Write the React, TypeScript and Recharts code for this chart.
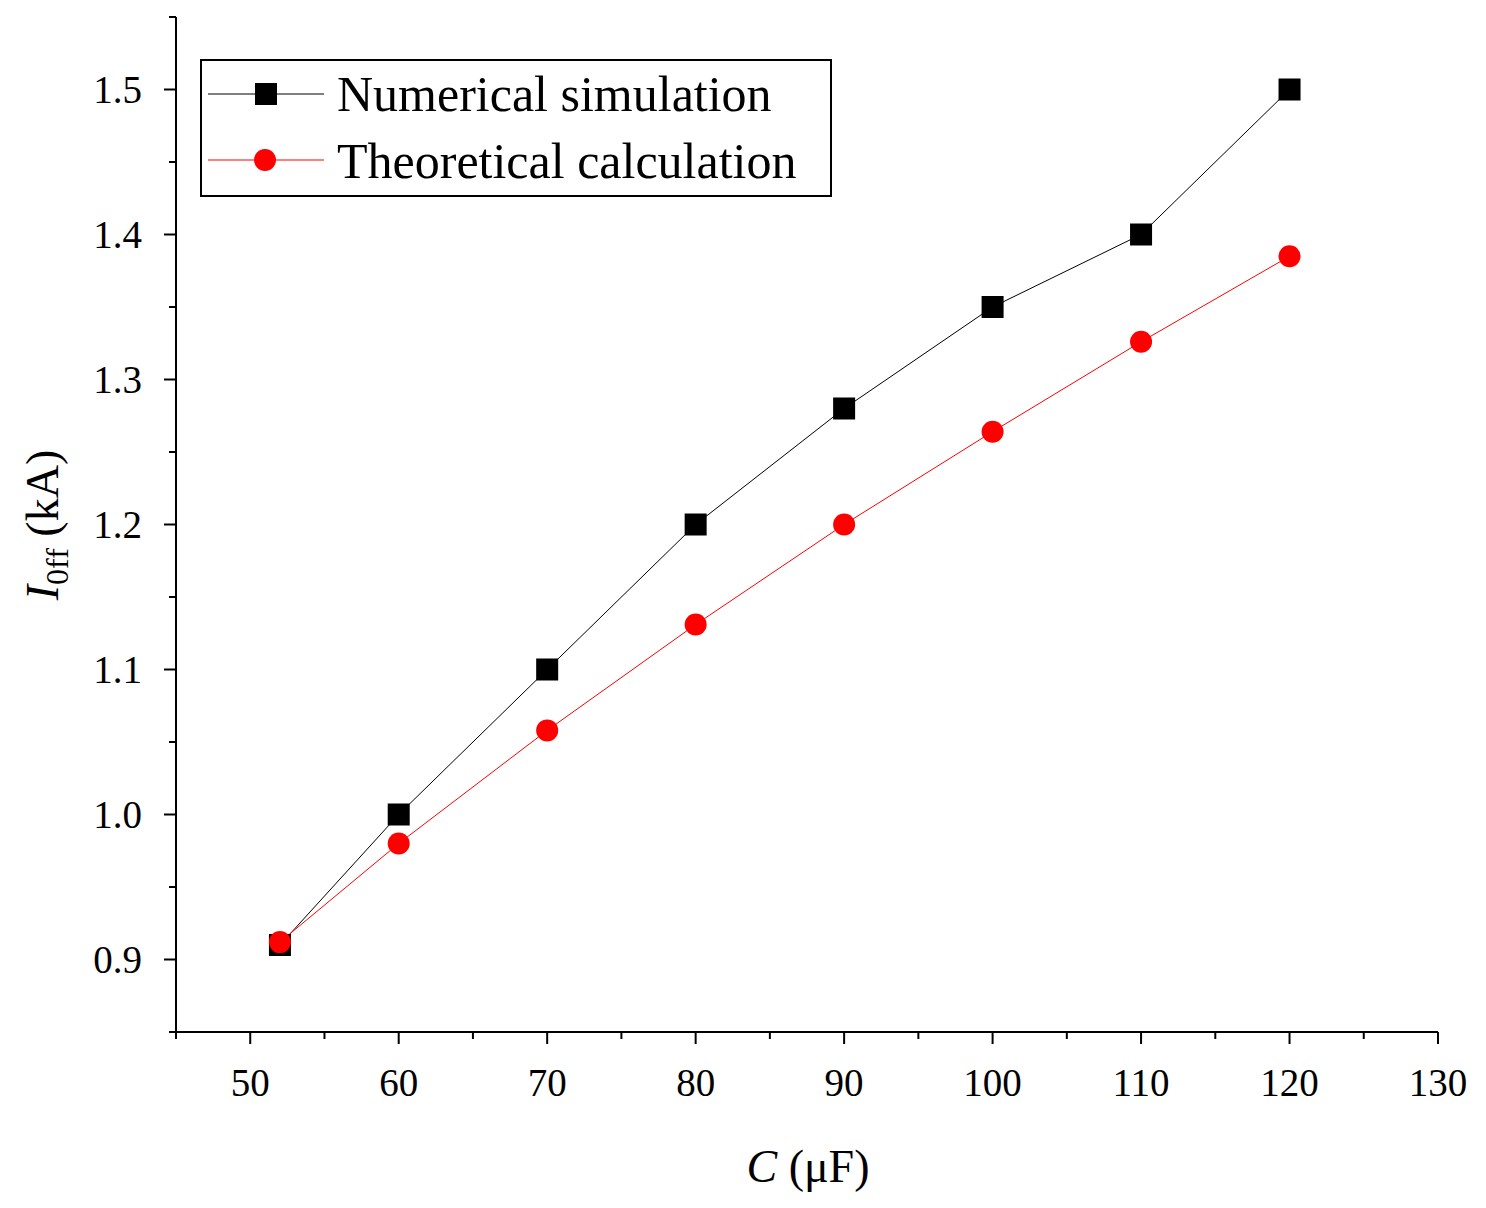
import React from 'react';
import { LineChart, Line, XAxis, YAxis } from 'recharts';

const capacitance = [52, 60, 70, 80, 90, 100, 110, 120];
const numerical = [0.91, 1.0, 1.1, 1.2, 1.28, 1.35, 1.4, 1.5];
const theoretical = [0.912, 0.98, 1.058, 1.131, 1.2, 1.264, 1.326, 1.385];
const xTicks = [45, 50, 55, 60, 65, 70, 75, 80, 85, 90, 95, 100, 105, 110, 115, 120, 125, 130];
const yTicks = [0.85, 0.9, 0.95, 1.0, 1.05, 1.1, 1.15, 1.2, 1.25, 1.3, 1.35, 1.4, 1.45, 1.5, 1.55];

const data = capacitance.map((c, i) => ({ c, num: numerical[i], theo: theoretical[i] }));

const FONT = '"Liberation Serif", "Times New Roman", serif';

const XTick = (props: any) => {
  const { x, y, payload } = props;
  const v = payload.value;
  const major = v % 10 === 0;
  return (
    <g>
      <line x1={x} x2={x} y1={y} y2={y + (major ? 12 : 7)} stroke="#000" strokeWidth={2} />
      {major && (
        <text x={x} y={y + 64} textAnchor="middle" fontFamily={FONT} fontSize={39} fill="#000">{v}</text>
      )}
    </g>
  );
};

const YTick = (props: any) => {
  const { x, y, payload } = props;
  const v = payload.value;
  const major = Math.round(v * 100) % 10 === 0;
  return (
    <g>
      <line x1={x} x2={x - (major ? 12 : 7)} y1={y} y2={y} stroke="#000" strokeWidth={2} />
      {major && (
        <text x={x - 34} y={y + 13} textAnchor="end" fontFamily={FONT} fontSize={39} fill="#000">{v.toFixed(1)}</text>
      )}
    </g>
  );
};

const Square = (props: any) => (
  <rect x={props.cx - 11} y={props.cy - 11} width={22} height={22} fill="#000" />
);
const Dot = (props: any) => <circle cx={props.cx} cy={props.cy} r={11} fill="#ff0000" />;

const LegendBox = () => (
  <svg width={632} height={138} style={{ display: 'block' }}>
    <rect x={1} y={1} width={630} height={136} fill="#fff" stroke="#000" strokeWidth={2} />
    <line x1={8} x2={124} y1={35} y2={35} stroke="#000" strokeWidth={1} />
    <rect x={55} y={24} width={22} height={22} fill="#000" />
    <text x={137} y={52} fontFamily={FONT} fontSize={50} fill="#000">Numerical simulation</text>
    <line x1={8} x2={124} y1={101} y2={101} stroke="#ff0000" strokeWidth={1} />
    <circle cx={65} cy={101} r={11} fill="#ff0000" />
    <text x={137} y={119} fontFamily={FONT} fontSize={50} fill="#000">Theoretical calculation</text>
  </svg>
);

export default function App() {
  return (
    <div style={{ margin: -8, width: 1486, height: 1208, background: '#fff', position: 'relative' }}>
      <LineChart width={1486} height={1208} data={data} margin={{ top: 17, right: 48, left: 0, bottom: 0 }}>
        <XAxis
          dataKey="c"
          type="number"
          domain={[45, 130]}
          ticks={xTicks}
          interval={0}
          height={176}
          axisLine={{ stroke: '#000', strokeWidth: 2 }}
          tickLine={false}
          tickSize={0}
          tickMargin={0}
          tick={<XTick />}
        />
        <XAxis xAxisId="top" orientation="top" dataKey="c" type="number" domain={[45, 130]} height={0} tick={false} tickLine={false} axisLine={{ stroke: '#000', strokeWidth: 2 }} />
        <YAxis
          type="number"
          domain={[0.85, 1.55]}
          ticks={yTicks}
          interval={0}
          width={176}
          axisLine={{ stroke: '#000', strokeWidth: 2 }}
          tickLine={false}
          tickSize={0}
          tickMargin={0}
          tick={<YTick />}
        />
        <YAxis yAxisId="right" orientation="right" domain={[0.85, 1.55]} width={0} tick={false} tickLine={false} axisLine={{ stroke: '#000', strokeWidth: 2 }} />
        <Line dataKey="num" stroke="#000" strokeWidth={1} dot={<Square />} activeDot={false} isAnimationActive={false} />
        <Line dataKey="theo" stroke="#ff0000" strokeWidth={1} dot={<Dot />} activeDot={false} isAnimationActive={false} />
        <text x={808} y={1182} textAnchor="middle" fontFamily={FONT} fontSize={46} fill="#000">
          <tspan fontStyle="italic">C</tspan> (μF)
        </text>
        <text transform="translate(58,525) rotate(-90)" textAnchor="middle" fontFamily={FONT} fontSize={46} fill="#000">
          <tspan fontStyle="italic">I</tspan>
          <tspan fontSize={32} dy={10}>0ff</tspan>
          <tspan dy={-10}> (kA)</tspan>
        </text>
      </LineChart>
      <div style={{ position: 'absolute', left: 200, top: 59 }}>
        <LegendBox />
      </div>
    </div>
  );
}
